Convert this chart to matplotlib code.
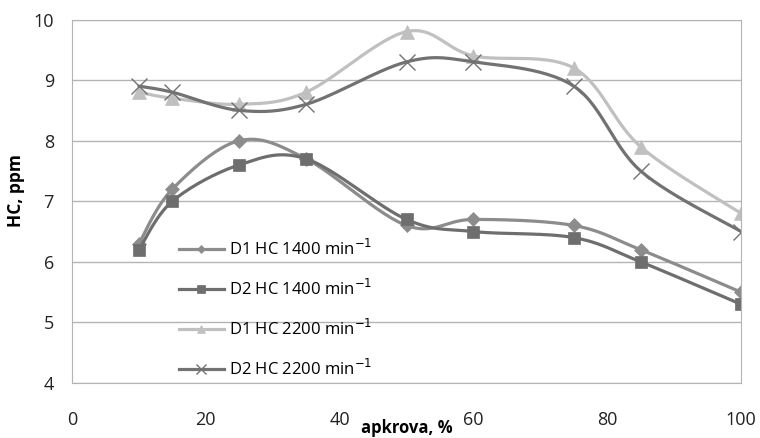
import numpy as np
import matplotlib
matplotlib.use('Agg')
import matplotlib.pyplot as plt

# 데이터
apkrova = [10, 15, 25, 35, 50, 60, 75, 85, 100]
d1_1400 = [6.3, 7.2, 8.0, 7.7, 6.6, 6.7, 6.6, 6.2, 5.5]
d2_1400 = [6.2, 7.0, 7.6, 7.7, 6.7, 6.5, 6.4, 6.0, 5.3]
d1_2200 = [8.8, 8.7, 8.6, 8.8, 9.8, 9.4, 9.2, 7.9, 6.8]
d2_2200 = [8.9, 8.8, 8.5, 8.6, 9.3, 9.3, 8.9, 7.5, 6.5]
labels = ['D1 HC 1400 min$^{-1}$', 'D2 HC 1400 min$^{-1}$',
          'D1 HC 2200 min$^{-1}$', 'D2 HC 2200 min$^{-1}$']
y_ticks = [4, 5, 6, 7, 8, 9, 10]
x_ticks = [0, 20, 40, 60, 80, 100]


def smooth(xs, ys, n=30):
    # Excel 스타일 부드러운 선 (Catmull-Rom -> Bezier)
    p = np.column_stack([xs, ys]).astype(float)
    p = np.vstack([p[0], p, p[-1]])
    out = []
    t = np.linspace(0, 1, n)[:, None]
    for i in range(1, len(p) - 2):
        p0, p1, p2, p3 = p[i - 1], p[i], p[i + 1], p[i + 2]
        c1 = p1 + (p2 - p0) / 6
        c2 = p2 - (p3 - p1) / 6
        seg = ((1 - t) ** 3) * p1 + 3 * ((1 - t) ** 2) * t * c1 \
            + 3 * (1 - t) * t ** 2 * c2 + t ** 3 * p2
        out.append(seg if i == 1 else seg[1:])
    s = np.vstack(out)
    return s[:, 0], s[:, 1]


plt.rcParams['font.family'] = ['Open Sans', 'DejaVu Sans']
fig = plt.figure(figsize=(7.6, 4.38), dpi=100)
ax = fig.add_axes([72 / 760, 55 / 438, 669 / 760, 363.5 / 438])

series = [
    (d1_1400, '#8c8c8c', 'D', 7),
    (d2_1400, '#6e6e6e', 's', 9),
    (d1_2200, '#c0c0c0', '^', 10),
    (d2_2200, '#727272', 'x', 11),
]
for (vals, col, mk, ms), lab in zip(series, labels):
    sx, sy = smooth(apkrova, vals)
    ax.plot(sx, sy, color=col, lw=2.3, solid_capstyle='round')
    ax.plot(apkrova, vals, ls='none', marker=mk, ms=ms, color=col,
            mec=col, mew=1.0 if mk == 'x' else 0.5)
    ax.plot([], [], color=col, lw=2.3, marker=mk,
            ms=ms * 0.6, mew=1.0 if mk == 'x' else 0.5, label=lab)

ax.set_xlim(0, 100)
ax.set_ylim(4, 10)
ax.set_xticks(x_ticks)
ax.set_yticks(y_ticks)
ax.tick_params(length=0, labelsize=13, colors='#222222')
ax.tick_params(axis='x', pad=20)
ax.tick_params(axis='y', pad=13)
ax.grid(axis='y', color='#b4b4b4', lw=1)
ax.set_axisbelow(True)
for s in ax.spines.values():
    s.set_color('#b4b4b4')

ax.set_xlabel('apkrova, %', fontweight='bold', fontsize=12)
ax.xaxis.set_label_coords(0.5, -0.1)
ax.set_ylabel('HC, ppm', fontweight='bold', fontsize=12.5)
ax.yaxis.set_label_coords(-0.07, 0.53)

ax.legend(loc='upper left', bbox_to_anchor=(172 / 760, 1 - 232 / 438),
          bbox_transform=fig.transFigure, frameon=False, fontsize=12,
          handlelength=2.7, labelspacing=1.2, handletextpad=0.3,
          borderaxespad=0)

fig.savefig('out.png', dpi=100)
